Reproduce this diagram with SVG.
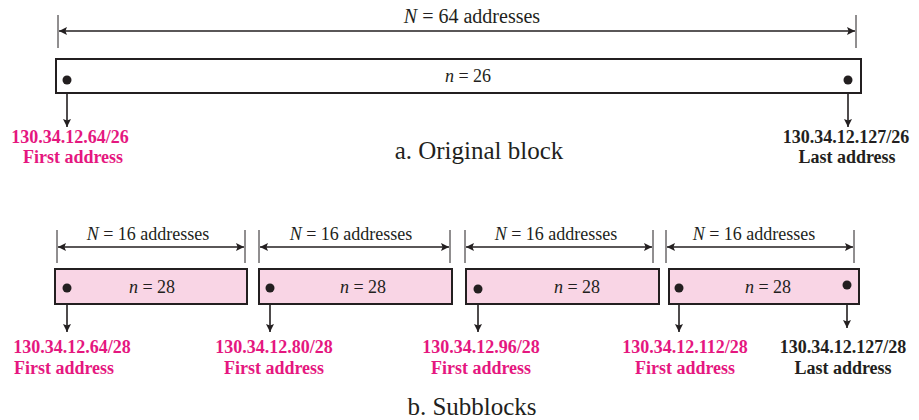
<svg xmlns="http://www.w3.org/2000/svg" width="919" height="420" viewBox="0 0 919 420">
<defs>
<marker id="ah" viewBox="0 0 10 10" refX="10" refY="5" markerWidth="8" markerHeight="8" markerUnits="userSpaceOnUse" orient="auto-start-reverse">
<path d="M0,0 L10,5 L0,10 L2,5 Z" fill="#231f20"/>
</marker>
<style>
.blk{fill:#ffffff;stroke:#231f20;stroke-width:2}
.sub{fill:#f9d5e5;stroke:#231f20;stroke-width:2}
.tick{stroke:#231f20;stroke-width:1}
.dim{stroke:#231f20;stroke-width:1.6;fill:none}
.ptr{stroke:#231f20;stroke-width:1.6;fill:none;marker-end:url(#ah)}
.dot{fill:#231f20}
.t{fill:#231f20;text-anchor:middle}
.lbl{font-weight:bold;font-size:18px;text-anchor:middle}
.pk{fill:#e5177f}
.dk{fill:#231f20}
</style>
</defs>
<g id="connectors">
<line class="tick" x1="58" y1="15" x2="58" y2="48"/>
<line class="tick" x1="856" y1="15" x2="856" y2="48"/>
<line class="dim" x1="59" y1="31" x2="855" y2="31" marker-start="url(#ah)" marker-end="url(#ah)"/>
<line class="ptr" x1="67" y1="80" x2="67" y2="127"/>
<line class="ptr" x1="848" y1="80" x2="848" y2="127"/>
<line class="tick" x1="57" y1="230" x2="57" y2="263"/>
<line class="tick" x1="245" y1="230" x2="245" y2="263"/>
<line class="dim" x1="58" y1="247" x2="244" y2="247" marker-start="url(#ah)" marker-end="url(#ah)"/>
<line class="tick" x1="259" y1="230" x2="259" y2="263"/>
<line class="tick" x1="450" y1="230" x2="450" y2="263"/>
<line class="dim" x1="260" y1="247" x2="449" y2="247" marker-start="url(#ah)" marker-end="url(#ah)"/>
<line class="tick" x1="465" y1="230" x2="465" y2="263"/>
<line class="tick" x1="653" y1="230" x2="653" y2="263"/>
<line class="dim" x1="466" y1="247" x2="652" y2="247" marker-start="url(#ah)" marker-end="url(#ah)"/>
<line class="tick" x1="666" y1="230" x2="666" y2="263"/>
<line class="tick" x1="854" y1="230" x2="854" y2="263"/>
<line class="dim" x1="667" y1="247" x2="853" y2="247" marker-start="url(#ah)" marker-end="url(#ah)"/>
<line class="ptr" x1="67" y1="288" x2="67" y2="332"/>
<line class="ptr" x1="270" y1="288" x2="270" y2="332"/>
<line class="ptr" x1="478" y1="289" x2="478" y2="332"/>
<line class="ptr" x1="679" y1="288" x2="679" y2="332"/>
<line class="ptr" x1="847" y1="285" x2="847" y2="328"/>
</g>
<g id="original">
<rect class="blk" x="56" y="59" width="805" height="34"/>
<text class="t" style="font-family:'Liberation Serif'" x="468" y="82" font-size="18"><tspan font-style="italic">n</tspan> = 26</text>
<text class="t" style="font-family:'Liberation Serif'" x="472" y="23" font-size="20"><tspan font-style="italic">N</tspan> = 64 addresses</text>
<circle class="dot" cx="67" cy="80" r="4.5"/>
<circle class="dot" cx="848" cy="80" r="4.5"/>
</g>
<g id="orig-first">
<text class="lbl pk" style="font-family:'Liberation Serif'" x="70" y="143">130.34.12.64/26</text>
<text class="lbl pk" style="font-family:'Liberation Serif'" x="73" y="163">First address</text>
</g>
<g id="orig-last">
<text class="lbl dk" style="font-family:'Liberation Serif'" x="846" y="143">130.34.12.127/26</text>
<text class="lbl dk" style="font-family:'Liberation Serif'" x="847" y="163">Last address</text>
</g>
<g id="caption-a"><text class="t" style="font-family:'Liberation Serif'" x="479" y="159" font-size="25">a. Original block</text></g>
<g id="sub1">
<rect class="sub" x="55" y="269" width="192" height="35"/>
<text class="t" style="font-family:'Liberation Serif'" x="152" y="293" font-size="18"><tspan font-style="italic">n</tspan> = 28</text>
<text class="t" style="font-family:'Liberation Serif'" x="148" y="240" font-size="18"><tspan font-style="italic">N</tspan> = 16 addresses</text>
<circle class="dot" cx="67" cy="288" r="4.5"/>
<text class="lbl pk" style="font-family:'Liberation Serif'" x="72" y="353">130.34.12.64/28</text>
<text class="lbl pk" style="font-family:'Liberation Serif'" x="64" y="374">First address</text>
</g>
<g id="sub2">
<rect class="sub" x="259" y="269" width="193" height="35"/>
<text class="t" style="font-family:'Liberation Serif'" x="363" y="293" font-size="18"><tspan font-style="italic">n</tspan> = 28</text>
<text class="t" style="font-family:'Liberation Serif'" x="351" y="240" font-size="18"><tspan font-style="italic">N</tspan> = 16 addresses</text>
<circle class="dot" cx="270" cy="288" r="4.5"/>
<text class="lbl pk" style="font-family:'Liberation Serif'" x="274" y="353">130.34.12.80/28</text>
<text class="lbl pk" style="font-family:'Liberation Serif'" x="274" y="374">First address</text>
</g>
<g id="sub3">
<rect class="sub" x="466" y="269" width="193" height="35"/>
<text class="t" style="font-family:'Liberation Serif'" x="577" y="293" font-size="18"><tspan font-style="italic">n</tspan> = 28</text>
<text class="t" style="font-family:'Liberation Serif'" x="556" y="240" font-size="18"><tspan font-style="italic">N</tspan> = 16 addresses</text>
<circle class="dot" cx="478" cy="289" r="4.5"/>
<text class="lbl pk" style="font-family:'Liberation Serif'" x="481" y="353">130.34.12.96/28</text>
<text class="lbl pk" style="font-family:'Liberation Serif'" x="481" y="374">First address</text>
</g>
<g id="sub4">
<rect class="sub" x="669" y="269" width="190" height="35"/>
<text class="t" style="font-family:'Liberation Serif'" x="768" y="293" font-size="18"><tspan font-style="italic">n</tspan> = 28</text>
<text class="t" style="font-family:'Liberation Serif'" x="754" y="240" font-size="18"><tspan font-style="italic">N</tspan> = 16 addresses</text>
<circle class="dot" cx="679" cy="288" r="4.5"/>
<circle class="dot" cx="847" cy="285" r="4.5"/>
<text class="lbl pk" style="font-family:'Liberation Serif'" x="685" y="353">130.34.12.112/28</text>
<text class="lbl pk" style="font-family:'Liberation Serif'" x="685" y="374">First address</text>
<text class="lbl dk" style="font-family:'Liberation Serif'" x="843" y="353">130.34.12.127/28</text>
<text class="lbl dk" style="font-family:'Liberation Serif'" x="843" y="374">Last address</text>
</g>
<g id="caption-b"><text class="t" style="font-family:'Liberation Serif'" x="472" y="415" font-size="25">b. Subblocks</text></g>
</svg>
